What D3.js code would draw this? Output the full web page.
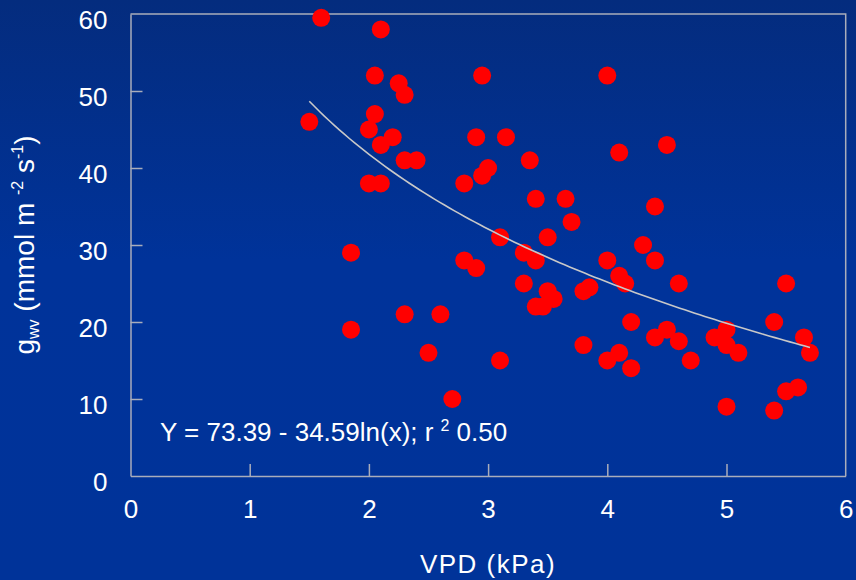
<!DOCTYPE html>
<html>
<head>
<meta charset="utf-8">
<script src="https://cdn.jsdelivr.net/npm/d3@7/dist/d3.min.js"></script>
<style>
  html, body { margin: 0; padding: 0; background: #003399; }
  svg { display: block; font-family: "Liberation Sans", Arial, sans-serif; }
</style>
</head>
<body>
<svg id="chart" width="856" height="580"></svg>
<script>
// Vapour pressure deficit (kPa) for each observation
const vpd = [1.5, 1.6, 2.1, 2.05, 2.25, 2.3, 2.05, 2.0, 2.2, 2.1, 2.3, 2.4, 2.0, 2.1,
  1.85, 1.85, 2.3, 2.5, 2.6, 2.7, 2.8, 2.8, 2.9, 2.9, 2.95, 2.95, 3.0, 3.1, 3.1, 3.15,
  3.35, 3.3, 3.4, 3.3, 3.4, 3.4, 3.46, 3.5, 3.5, 3.55, 3.65, 3.7, 3.8, 3.85, 3.8,
  4.0, 4.0, 4.0, 4.1, 4.1, 4.15, 4.1, 4.2, 4.2, 4.3, 4.4, 4.4, 4.4, 4.5, 4.5, 4.6,
  4.6, 4.7, 4.9, 5.0, 5.0, 5.1, 5.0, 5.4, 5.5, 5.4, 5.5, 5.6, 5.65, 5.7];
// Stomatal conductance to water vapour (mmol m-2 s-1), paired with vpd
const gwv = [46, 59.5, 58, 52, 51, 49.5, 47, 45, 44, 43, 41, 41, 38, 38,
  29, 19, 21, 16, 21, 10, 38, 28, 27, 44, 52, 39, 40, 31, 15, 44,
  41, 29, 28, 25, 36, 22, 22, 24, 31, 23, 36, 33, 24, 24.5, 17,
  52, 28, 15, 42, 26, 25, 16, 20, 14, 30, 35, 28, 18, 19, 43, 25,
  17.5, 15, 18, 19, 17, 16, 9, 20, 25, 8.5, 11, 11.5, 18, 16];

const xTicks = [0, 1, 2, 3, 4, 5, 6];
const yTicks = [0, 10, 20, 30, 40, 50, 60];
const equationText = "Y = 73.39 - 34.59ln(x); r";
const r2Text = " 0.50";

const W = 856, H = 580;
const plotLeft = 130.5, plotRight = 845.7, plotTop = 14, plotBottom = 476;

const svg = d3.select("#chart");

// backdrop: deep blue, slightly darker toward the top
const defs = svg.append("defs");
const grad = defs.append("linearGradient").attr("id", "bg")
  .attr("x1", 0).attr("y1", 0).attr("x2", 0).attr("y2", 1);
grad.append("stop").attr("offset", "0%").attr("stop-color", "#042c7e");
grad.append("stop").attr("offset", "45%").attr("stop-color", "#00339a");
grad.append("stop").attr("offset", "100%").attr("stop-color", "#003399");
svg.append("rect").attr("width", W).attr("height", H).attr("fill", "url(#bg)");

const x = d3.scaleLinear().domain([0, 6]).range([plotLeft, plotRight]);
const y = d3.scaleLinear().domain([0, 60]).range([plotBottom, plotTop]);

const axisColor = "#a9adbb";
const fontSize = 26;

// frame: top and right edges
svg.append("path")
  .attr("d", `M${plotLeft},${plotTop}H${plotRight}V${plotBottom}`)
  .attr("fill", "none").attr("stroke", axisColor).attr("stroke-width", 1.5);

// x axis with inward ticks
const gx = svg.append("g").attr("transform", `translate(0,${plotBottom})`)
  .call(d3.axisBottom(x).tickValues(xTicks).tickFormat(d3.format("d"))
    .tickSizeInner(-12).tickSizeOuter(0));
gx.select(".domain").attr("stroke", axisColor).attr("stroke-width", 1.5);
gx.selectAll(".tick line").attr("stroke", axisColor).attr("stroke-width", 1.5)
  .filter(d => d === 0 || d === 6).remove();
gx.selectAll(".tick text").attr("y", 42).attr("dy", null)
  .attr("fill", "#ffffff").attr("font-size", fontSize)
  .attr("font-family", "Liberation Sans, Arial, sans-serif");

// y axis with inward ticks
const gy = svg.append("g").attr("transform", `translate(${plotLeft},0)`)
  .call(d3.axisLeft(y).tickValues(yTicks).tickFormat(d3.format("d"))
    .tickSizeInner(-12).tickSizeOuter(0));
gy.select(".domain").attr("stroke", axisColor).attr("stroke-width", 1.5);
gy.selectAll(".tick line").attr("stroke", axisColor).attr("stroke-width", 1.5)
  .filter(d => d === 0 || d === 60).remove();
gy.selectAll(".tick text").attr("x", -23).attr("dy", 14)
  .attr("fill", "#ffffff").attr("font-size", fontSize)
  .attr("font-family", "Liberation Sans, Arial, sans-serif");

// least-squares logarithmic trend through the observations
const lx = vpd.map(Math.log);
const mx = d3.mean(lx), my = d3.mean(gwv);
const slope = d3.sum(lx, (v, i) => (v - mx) * (gwv[i] - my)) / d3.sum(lx, v => (v - mx) ** 2);
const intercept = my - slope * mx;
const [xMin, xMax] = d3.extent(vpd);
const curvePts = d3.range(0, 101).map(i => {
  const v = xMin + (xMax - xMin) * i / 100;
  return [v, intercept + slope * Math.log(v)];
});

// observations
svg.append("g").selectAll("circle").data(vpd).join("circle")
  .attr("cx", d => x(d)).attr("cy", (d, i) => y(gwv[i]))
  .attr("r", 9).attr("fill", "#ff0000");

svg.append("path").datum(curvePts)
  .attr("d", d3.line().x(d => x(d[0])).y(d => y(d[1])))
  .attr("fill", "none").attr("stroke", "#c8c8c8").attr("stroke-width", 1.6);

// fitted equation
const eq = svg.append("text").attr("x", 160).attr("y", 441)
  .attr("fill", "#ffffff").attr("font-size", 26);
eq.append("tspan").text(equationText);
eq.append("tspan").attr("dx", 7).attr("dy", -10).attr("font-size", 16).text("2");
eq.append("tspan").attr("dy", 10).text(r2Text);

// axis titles
svg.append("text").attr("x", x(3)).attr("y", 573).attr("text-anchor", "middle")
  .attr("fill", "#ffffff").attr("font-size", fontSize).attr("letter-spacing", 1.5)
  .text("VPD (kPa)");

const yl = svg.append("text")
  .attr("transform", `translate(34,${(plotTop + plotBottom) / 2}) rotate(-90)`)
  .attr("text-anchor", "middle").attr("fill", "#ffffff").attr("font-size", 28);
yl.append("tspan").text("g");
yl.append("tspan").attr("font-size", 16).attr("dy", 5).text("wv");
yl.append("tspan").attr("dy", -5).text(" (mmol m ");
yl.append("tspan").attr("font-size", 16).attr("dy", -11).text("-2");
yl.append("tspan").attr("dy", 11).text(" s");
yl.append("tspan").attr("font-size", 16).attr("dy", -11).text("-1");
yl.append("tspan").attr("dy", 11).text(")");
</script>
</body>
</html>
